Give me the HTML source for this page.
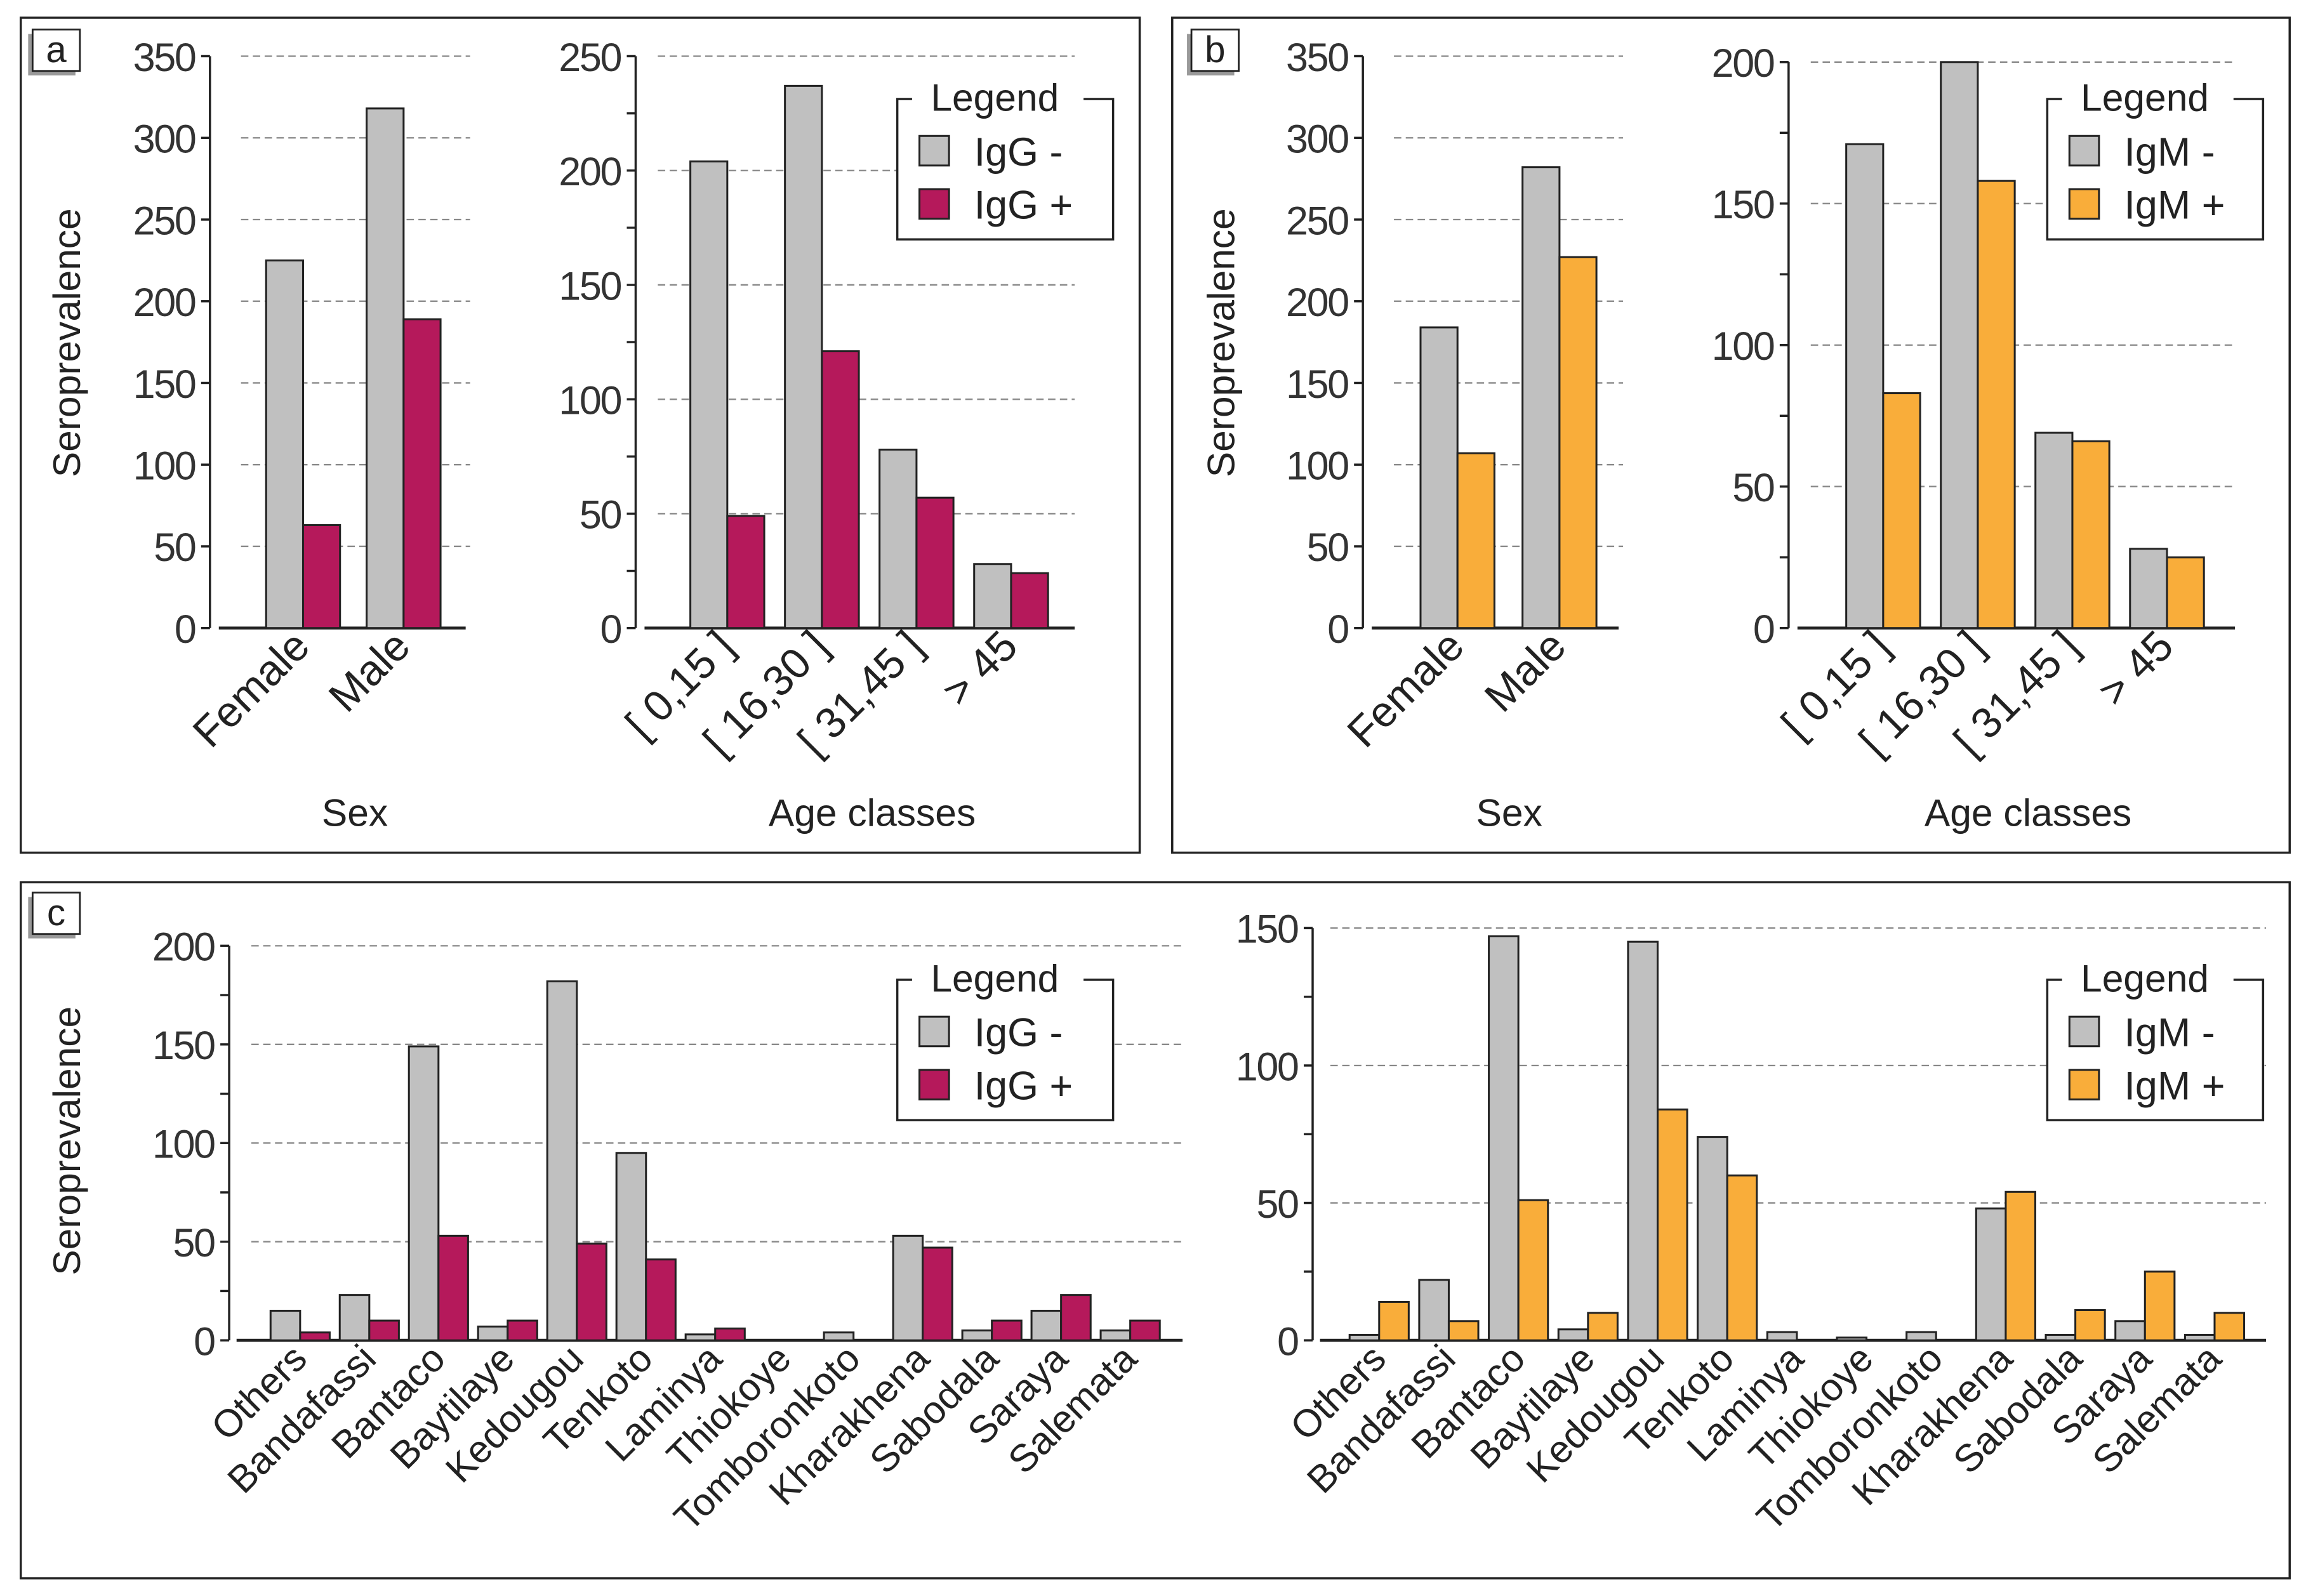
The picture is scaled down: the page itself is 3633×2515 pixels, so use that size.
<!DOCTYPE html>
<html><head><meta charset="utf-8"><style>
html,body{margin:0;padding:0;background:#fff}
svg{display:block;font-family:"Liberation Sans",sans-serif}
</style></head><body>
<svg id="fig" width="3633" height="2515" viewBox="0 0 1560 1080" xmlns="http://www.w3.org/2000/svg">
<rect x="0" y="0" width="1560" height="1080" fill="#fff"/>
<rect x="14" y="12" width="757" height="565" fill="none" stroke="#222" stroke-width="1.5"/>
<rect x="793" y="12" width="756" height="565" fill="none" stroke="#222" stroke-width="1.5"/>
<rect x="14" y="597" width="1535" height="471" fill="none" stroke="#222" stroke-width="1.5"/>
<g id="root"></g>
</svg>
<script>
// Panel a - sex
const sexCats = ["Female", "Male"];
const aSexNeg = [225, 318];
const aSexPos = [63, 189];
// Panel a - age
const ageCats = ["[ 0,15 ]", "[ 16,30 ]", "[ 31,45 ]", "> 45"];
const aAgeNeg = [204, 237, 78, 28];
const aAgePos = [49, 121, 57, 24];
// Panel b
const bSexNeg = [184, 282];
const bSexPos = [107, 227];
const bAgeNeg = [171, 200, 69, 28];
const bAgePos = [83, 158, 66, 25];
// Panel c
const places = ["Others","Bandafassi","Bantaco","Baytilaye","Kedougou","Tenkoto","Laminya","Thiokoye","Tomboronkoto","Kharakhena","Sabodala","Saraya","Salemata"];
const cIgGNeg = [15, 23, 149, 7, 182, 95, 3, 0, 4, 53, 5, 15, 5];
const cIgGPos = [4, 10, 53, 10, 49, 41, 6, 0, 0, 47, 10, 23, 10];
const cIgMNeg = [2, 22, 147, 4, 145, 74, 3, 1, 3, 48, 2, 7, 2];
const cIgMPos = [14, 7, 51, 10, 84, 60, 0, 0, 0, 54, 11, 25, 10];
const ticks350 = [0, 50, 100, 150, 200, 250, 300, 350];
const ticks250 = [0, 50, 100, 150, 200, 250];
const ticks200 = [0, 50, 100, 150, 200];
const ticks150 = [0, 50, 100, 150];

const NS = "http://www.w3.org/2000/svg";
const root = document.getElementById('root');
const GRAY = "#c0c0c0", MAG = "#b5195b", ORA = "#f9ad3a";
function mk(tag, attrs, parent, txt) {
  const e = document.createElementNS(NS, tag);
  for (const k in attrs) e.setAttribute(k, attrs[k]);
  if (txt !== undefined) e.textContent = txt;
  (parent || root).appendChild(e);
  return e;
}
function chart(o) {
  const g = mk('g', {});
  
  
  const y = v => o.y0 - (v / o.max) * (o.y0 - o.yTop);
  o.ticks.forEach(t => {
    if (t > 0) {
      const l = mk('line', {x1: o.gx1, x2: o.gx2, y1: y(t), y2: y(t), stroke: "#888", "stroke-width": 1, "stroke-dasharray": "5,3"}, g);
      
      
    }
  });
  const ax = mk('line', {x1: o.ax, x2: o.ax, y1: y(o.max), y2: o.y0, stroke: "#222", "stroke-width": 1.5}, g);
  
  
  const step = o.minor || 50;
  for (let t = 0; t <= o.max; t += step) {
    mk('line', {x1: o.ax - 6, x2: o.ax, y1: y(t), y2: y(t), stroke: "#222", "stroke-width": 1.5}, g);
  }
  o.ticks.forEach(t => {
    const tx = mk('text', {x: o.ax - 10, y: y(t) + 10, "text-anchor": "end", "font-size": 27, fill: "#333", "letter-spacing": "-1"}, g, String(t));
    
    
  });
  const bl = mk('line', {x1: o.bx1, x2: o.bx2, y1: o.y0, y2: o.y0, stroke: "#222", "stroke-width": 2}, g);
  
  
  o.cats.forEach((c, i) => {
    const cx = o.c0 + i * o.step;
    [[o.neg, GRAY, -o.bw], [o.pos, o.col, 0]].forEach(([arr, col, off]) => {
      const v = arr[i];
      const r = mk('rect', {x: cx + off, y: y(v), width: o.bw, height: o.y0 - y(v), fill: col, stroke: "#222", "stroke-width": 1.3}, g);
      
      
    });
    const lab = mk('text', {x: cx + 6, y: o.y0 + 14, "text-anchor": "end", "font-size": o.lfs || 29, fill: "#222", transform: `rotate(-45 ${cx + 6} ${o.y0 + 14})`}, g, c);
    
    
  });
  if (o.xtitle) {
    const xt = mk('text', {x: o.xtx, y: 559, "text-anchor": "middle", "font-size": 26, fill: "#222"}, g, o.xtitle);
    
    
  }
}
function ytitle(x, yc) {
  const t = mk('text', {x: x, y: yc, "text-anchor": "middle", "font-size": 26, fill: "#222", transform: `rotate(-90 ${x} ${yc})`}, root, "Seroprevalence");
  
  
}
function legend(x, y, ab, col) {
  const g = mk('g', {});
  
  
  mk('rect', {x: x, y: y, width: 146, height: 95, fill: "#fff", stroke: "#222", "stroke-width": 1.5}, g);
  mk('rect', {x: x + 10, y: y - 14, width: 116, height: 26, fill: "#fff"}, g);
  mk('text', {x: x + 66, y: y + 8, "text-anchor": "middle", "font-size": 26, fill: "#222"}, g, "Legend");
  [[GRAY, ab + " -", 25], [col, ab + " +", 61]].forEach(([c, t, dy]) => {
    const s = mk('rect', {x: x + 15, y: y + dy, width: 20, height: 20, fill: c, stroke: "#222", "stroke-width": 1.3}, g);
    
    
    const tx = mk('text', {x: x + 52, y: y + dy + 20, "font-size": 27, fill: "#222"}, g, t);
    
    
  });
}
function plabel(x, y, t) {
  mk('rect', {x: x - 3, y: y + 3, width: 32, height: 28, fill: "#999"});
  mk('rect', {x: x, y: y, width: 32, height: 28, fill: "#fff", stroke: "#222", "stroke-width": 1.2});
  const l = mk('text', {x: x + 16, y: y + 22, "text-anchor": "middle", "font-size": 25, fill: "#222"}, root, t);
  
  
}
chart({name: 'chart-a-sex', cats: sexCats, neg: aSexNeg, pos: aSexPos, col: MAG, max: 350, ticks: ticks350, y0: 425, yTop: 38, ax: 142, gx1: 163, gx2: 318, bx1: 148, bx2: 315, c0: 205, step: 68, bw: 25, xtitle: "Sex", xtx: 240});
chart({name: 'chart-a-age', cats: ageCats, neg: aAgeNeg, pos: aAgePos, col: MAG, max: 250, ticks: ticks250, minor: 25, y0: 425, yTop: 38, ax: 430, gx1: 445, gx2: 727, bx1: 436, bx2: 727, c0: 492, step: 64, bw: 25, xtitle: "Age classes", xtx: 590});
ytitle(54, 232); legend(607, 67, "IgG", MAG); plabel(22, 20, "a");
chart({name: 'chart-b-sex', cats: sexCats, neg: bSexNeg, pos: bSexPos, col: ORA, max: 350, ticks: ticks350, y0: 425, yTop: 38, ax: 922, gx1: 943, gx2: 1098, bx1: 928, bx2: 1095, c0: 986, step: 69, bw: 25, xtitle: "Sex", xtx: 1021});
chart({name: 'chart-b-age', cats: ageCats, neg: bAgeNeg, pos: bAgePos, col: ORA, max: 200, ticks: ticks200, minor: 25, y0: 425, yTop: 42, ax: 1210, gx1: 1225, gx2: 1512, bx1: 1216, bx2: 1512, c0: 1274, step: 64, bw: 25, xtitle: "Age classes", xtx: 1372});
ytitle(835, 232); legend(1385, 67, "IgM", ORA); plabel(806, 20, "b");
chart({name: 'chart-c-igg', cats: places, neg: cIgGNeg, pos: cIgGPos, col: MAG, max: 200, ticks: ticks200, minor: 25, y0: 907, yTop: 640, ax: 155, gx1: 170, gx2: 800, bx1: 160, bx2: 800, c0: 203, step: 46.8, bw: 20, lfs: 26});
chart({name: 'chart-c-igm', cats: places, neg: cIgMNeg, pos: cIgMPos, col: ORA, max: 150, ticks: ticks150, minor: 25, y0: 907, yTop: 628, ax: 888, gx1: 900, gx2: 1533, bx1: 893, bx2: 1533, c0: 933, step: 47.1, bw: 20, lfs: 26});
ytitle(54, 772); legend(607, 663, "IgG", MAG); legend(1385, 663, "IgM", ORA); plabel(22, 604, "c");
</script>
</body></html>
